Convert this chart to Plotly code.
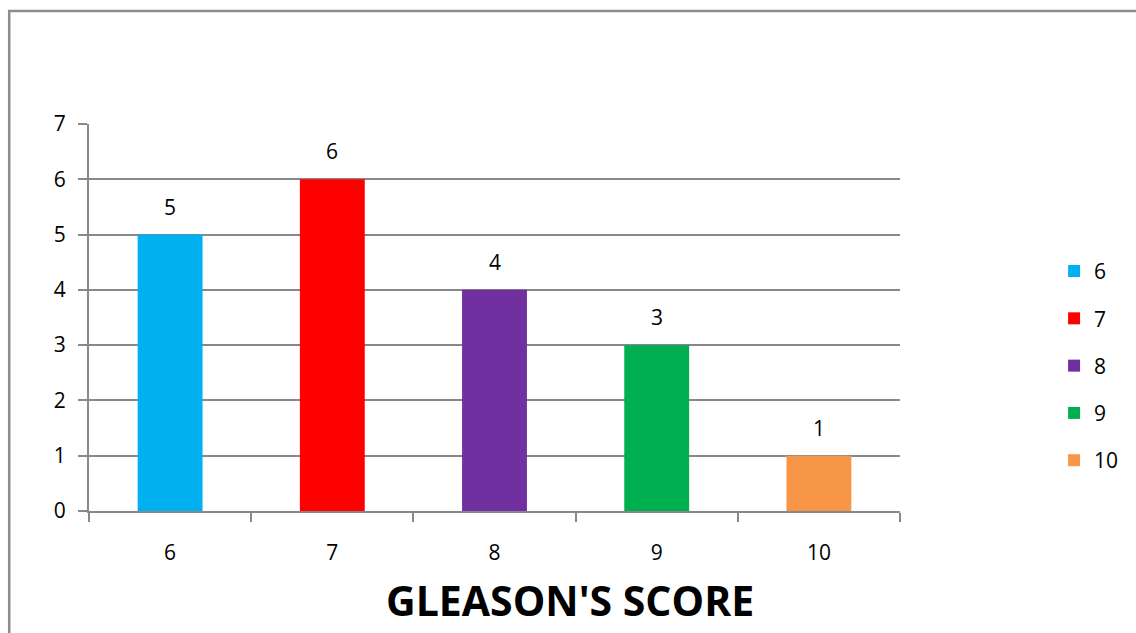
import plotly.graph_objects as go

# Gleason score distribution
categories = ["6", "7", "8", "9", "10"]
counts = [5, 6, 4, 3, 1]
colors = ["#00B0F0", "#FF0000", "#7030A0", "#00B050", "#F79646"]
y_ticks = [0, 1, 2, 3, 4, 5, 6, 7]
x_title = "GLEASON'S SCORE"

FONT = "Open Sans"
GRID = "#888888"

fig = go.Figure()
for cat, val, col in zip(categories, counts, colors):
    fig.add_trace(go.Bar(
        x=[cat], y=[val], name=cat, marker=dict(color=col, line=dict(width=0)),
        width=0.4, legendgroup=cat,
    ))

# value labels above each bar (category axis: position by index)
for i, val in enumerate(counts):
    fig.add_annotation(x=i, y=val, text=str(val), showarrow=False,
                       xref="x", yref="y",
                       yanchor="bottom", yshift=12,
                       font=dict(family=FONT, size=21, color="#000000"))

# axis title, set slightly right of the plot centre
fig.add_annotation(x=0.593, y=-0.229, xref="paper", yref="paper",
                   text="<b>" + x_title + "</b>", showarrow=False,
                   xanchor="center", yanchor="middle",
                   font=dict(family=FONT, size=41, color="#000000"))

fig.update_layout(
    width=1136, height=633,
    margin=dict(l=89, r=234, t=124, b=122),
    paper_bgcolor="white", plot_bgcolor="white",
    barmode="overlay",
    showlegend=True,
    legend=dict(x=1.190, xanchor="left", y=0.375, yanchor="middle",
                font=dict(family=FONT, size=21, color="#000000"),
                tracegroupgap=17, itemwidth=30),
    font=dict(family=FONT, size=21, color="#000000"),
    xaxis=dict(
        type="category", categoryorder="array", categoryarray=categories,
        range=[-0.5, len(categories) - 0.5],
        showline=True, linecolor=GRID, linewidth=2,
        ticks="outside", tickson="boundaries", ticklen=9, tickcolor=GRID, tickwidth=2,
        ticklabelstandoff=22,
        showgrid=False,
        tickfont=dict(family=FONT, size=21, color="#000000"),
    ),
    yaxis=dict(
        range=[0, 7], tickvals=y_ticks,
        showline=True, linecolor=GRID, linewidth=2,
        ticks="outside", ticklen=9, tickcolor=GRID, tickwidth=2,
        ticklabelstandoff=8,
        showgrid=True, gridcolor=GRID, gridwidth=1.5,
        zeroline=False,
        tickfont=dict(family=FONT, size=21, color="#000000"),
    ),
    shapes=[dict(type="rect", xref="paper", yref="paper",
                 x0=-0.0984, x1=2.0, y0=-1.0, y1=1.292,
                 line=dict(color="#8C8C8C", width=2.5), fillcolor="rgba(0,0,0,0)",
                 layer="below")],
)

fig.write_html("out.html")
